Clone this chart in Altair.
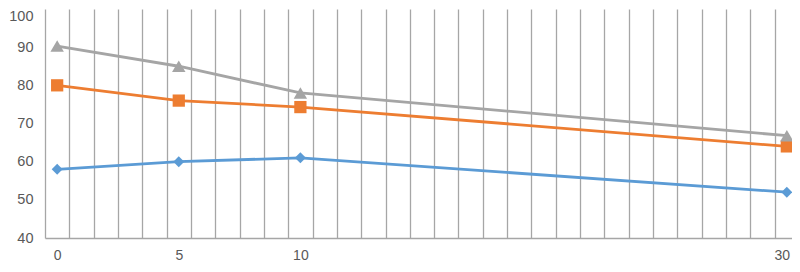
import altair as alt
import pandas as pd

x_cats = list(range(31))
x_points = [0, 5, 10, 30]
series_names = ["A", "B", "C"]
series_a = [58, 60, 61, 52]
series_b = [80, 76, 74.3, 64]
series_c = [90.3, 85, 78, 66.8]
y_ticks = [40, 50, 60, 70, 80, 90, 100]
x_labels = [0, 5, 10, 30]

colors = ["#5B9BD5", "#ED7D31", "#A5A5A5"]
shapes = ["diamond", "square", "triangle-up"]
sizes = [120, 180, 230]

rows = []
for name, vals in zip(series_names, [series_a, series_b, series_c]):
    for x, v in zip(x_points, vals):
        rows.append({"x": x, "y": v, "s": name})
df = pd.DataFrame(rows)

label_test = "indexof([" + ",".join(str(v) for v in x_labels) + "], datum.value) >= 0 ? datum.label : ''"

x_enc = alt.X(
    "x:O",
    scale=alt.Scale(type="band", domain=x_cats, paddingInner=0, paddingOuter=0),
    axis=alt.Axis(
        title=None, grid=True, tickBand="extent", ticks=False, labelAngle=0,
        labelExpr=label_test, gridColor="#A6A6A6", gridWidth=1.3,
        domainColor="#A6A6A6", domainWidth=1.5, labelPadding=10,
        labelFont="Liberation Sans", labelFontSize=14, labelColor="#595959",
        labelOffset={"condition": {"test": "datum.value == 30", "value": -5}, "value": 0},
    ),
)
y_enc = alt.Y(
    "y:Q",
    scale=alt.Scale(domain=[40, 100], nice=False, zero=False),
    axis=alt.Axis(
        title=None, values=y_ticks, grid=False, ticks=False, domain=False,
        labelPadding=12, labelFont="Liberation Sans", labelFontSize=14.5,
        labelColor="#595959",
        labelOffset={"condition": {"test": "datum.value == 100", "value": 7}, "value": 0},
    ),
)
color_enc = alt.Color("s:N", scale=alt.Scale(domain=series_names, range=colors), legend=None)

lines = alt.Chart(df).mark_line(strokeWidth=2.8).encode(
    x=x_enc, y=y_enc, color=color_enc, detail="s:N"
)
points = alt.Chart(df).mark_point(filled=True, opacity=1).encode(
    x=x_enc, y=y_enc, color=color_enc,
    shape=alt.Shape("s:N", scale=alt.Scale(domain=series_names, range=shapes), legend=None),
    size=alt.Size("s:N", scale=alt.Scale(domain=series_names, range=sizes), legend=None),
)

chart = (lines + points).properties(
    width=754, height=229,
    autosize=alt.AutoSizeParams(type="none"),
    padding={"left": 37, "top": 1, "right": -7, "bottom": 26},
).configure_view(stroke=None)

chart.save("out.html", embed_options={"renderer": "svg", "actions": False})
